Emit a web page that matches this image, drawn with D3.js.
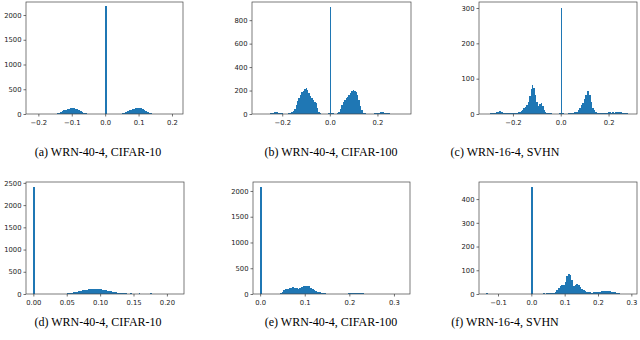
<!DOCTYPE html>
<html><head><meta charset="utf-8">
<script src="https://cdn.jsdelivr.net/npm/d3@7"></script>
<style>
html,body{margin:0;padding:0;background:#fff;}
svg{display:block;}
.tick text{font-family:"DejaVu Sans",sans-serif;font-size:6.8px;fill:#222;}
.cap{font-family:"Liberation Serif","Times New Roman",serif;font-size:12px;fill:#000;}
</style></head>
<body>
<svg id="c" width="640" height="340"></svg>
<script>
// ---------- data ----------
const captions = ["(a) WRN-40-4, CIFAR-10","(b) WRN-40-4, CIFAR-100","(c) WRN-16-4, SVHN",
                  "(d) WRN-40-4, CIFAR-10","(e) WRN-40-4, CIFAR-100","(f) WRN-16-4, SVHN"];
// histogram bin start and bin width per panel
const binStart = [-0.21, -0.30, -0.318, 0.0, 0.0, -0.135];
const binWidth = [0.005, 0.006, 0.006, 0.0025, 0.004, 0.005];
// bin counts
const countsA = [1,0,1,0,1,1,2,1,2,3,4,6,10,18,30,45,60,75,88,100,108,114,116,112,105,95,82,65,48,30,16,8,4,2,1,1,0,0,0,0,0,0,
  2180,0,0,0,0,1,1,2,4,8,15,28,45,62,78,90,100,108,114,118,122,115,95,75,55,38,24,14,8,5,3,2,2,1,1,1,0,1,0,1,0,1];
const countsB = [2,1,2,2,3,3,4,4,6,8,10,14,16,14,12,9,6,4,3,3,4,5,8,14,25,45,75,110,140,165,185,200,215,218,205,175,150,140,120,100,90,50,15,5,3,2,2,3,4,6,
  910,8,5,4,3,6,15,45,75,100,120,135,145,160,180,195,205,200,190,160,120,70,30,12,6,4,3,3,3,4,4,5,6,8,10,14,18,15,12,8,6,5,4,3,2,2,2,1,1,1];
const countsC = [1,1,1,1,2,2,3,4,5,7,8,7,5,4,3,2,2,3,2,3,4,3,4,5,6,8,12,16,20,25,35,50,70,82,75,55,35,22,28,30,22,12,6,4,3,2,2,1,1,1,1,1,2,
  300,2,1,1,1,2,2,3,4,5,5,6,10,18,25,30,42,55,65,66,55,35,18,10,6,4,3,3,3,2,3,3,4,5,5,4,5,4,5,6,5,6,5,4,3,2,2,1,1,1];
const countsD = [2400,0,0,0,0,0,0,0,0,0,0,0,0,0,1,1,3,5,6,8,12,15,20,28,35,45,55,65,75,82,90,95,100,105,110,112,115,118,116,112,108,100,92,85,75,66,58,50,42,36,30,25,20,17,14,12,
  10,9,12,8,10,9,7,12,8,6,10,7,9,6,12,8,5,10,6,8,7,5,9,6,7,5,8,4,6,5];
const countsE = [2070,5,3,2,3,2,3,4,4,5,8,15,40,85,95,100,110,125,130,120,110,105,120,135,150,160,162,150,125,100,75,55,40,30,22,15,12,9,8,7,
  7,6,7,6,6,6,6,7,8,10,12,18,25,22,18,25,20,12,8,6,5,5,5,4,4,5,4,4,5,4,5,6,5,4,3,3,2,2,3,1];
const countsF = [3,0,0,0,0,1,0,0,0,0,1,0,0,0,0,0,0,1,0,0,0,0,0,0,1,0,0,
  450,0,1,0,1,1,2,3,2,3,4,3,5,6,10,18,25,35,40,38,50,75,85,78,60,32,40,42,40,30,22,16,12,10,8,7,6,7,8,7,8,10,11,12,12,13,12,11,10,9,7,4,3,2,2,1,1,1,1];
const counts = [countsA, countsB, countsC, countsD, countsE, countsF];
// axis limits and ticks
const xLimits = [[-0.237,0.233],[-0.327,0.341],[-0.342,0.319],[-0.011,0.2256],[-0.016,0.336],[-0.157,0.317]];
const yLimits = [[0,2263],[0,955],[0,317],[0,2520],[0,2174],[0,472]];
const xTicks = [[-0.2,-0.1,0,0.1,0.2],[-0.2,0,0.2],[-0.2,0,0.2],[0,0.05,0.1,0.15,0.2],[0,0.1,0.2,0.3],[-0.1,0,0.1,0.2,0.3]];
const xTickFmt = [".1f",".1f",".1f",".2f",".1f",".1f"];
const yTicks = [[0,500,1000,1500,2000],[0,200,400,600,800],[0,100,200,300],[0,500,1000,1500,2000,2500],[0,500,1000,1500,2000],[0,100,200,300,400]];

// ---------- layout ----------
const frames = [
  {x0:26,x1:183,y0:2,y1:114},{x0:252,x1:411,y0:2,y1:114},{x0:479,x1:637,y0:2,y1:114},
  {x0:26,x1:184,y0:182,y1:294},{x0:253,x1:410,y0:182,y1:294},{x0:479,x1:637,y0:182,y1:294}];
const capPos = [{x:98,y:156},{x:331,y:156},{x:505,y:156},{x:98,y:326},{x:331,y:326},{x:505,y:326}];
const color = "#1f77b4";

const svg = d3.select("#c");
frames.forEach((f,i)=>{
  const x = d3.scaleLinear().domain(xLimits[i]).range([f.x0,f.x1]);
  const y = d3.scaleLinear().domain(yLimits[i]).range([f.y1,f.y0]);
  const g = svg.append("g");
  const bins = counts[i].map((c,k)=>({x0:binStart[i]+k*binWidth[i], x1:binStart[i]+(k+1)*binWidth[i], c}));
  g.append("g").selectAll("rect").data(bins.filter(b=>b.c>0)).join("rect")
    .attr("x",b=>x(b.x0)).attr("width",b=>Math.max(0.6,x(b.x1)-x(b.x0)))
    .attr("y",b=>y(b.c)).attr("height",b=>y(0)-y(b.c))
    .attr("fill",color).attr("shape-rendering","crispEdges");
  const xa = d3.axisBottom(x).tickValues(xTicks[i]).tickFormat(d3.format(xTickFmt[i])).tickSize(2.5).tickPadding(3.5);
  const ya = d3.axisLeft(y).tickValues(yTicks[i]).tickFormat(d3.format("d")).tickSize(2.5).tickPadding(2);
  const gx = g.append("g").attr("transform",`translate(0,${f.y1})`).call(xa);
  const gy = g.append("g").attr("transform",`translate(${f.x0},0)`).call(ya);
  [gx,gy].forEach(a=>{a.select(".domain").remove(); a.selectAll("line").attr("stroke","#333").attr("stroke-width",0.7);});
  g.append("rect").attr("x",f.x0).attr("y",f.y0).attr("width",f.x1-f.x0).attr("height",f.y1-f.y0)
    .attr("fill","none").attr("stroke","#444").attr("stroke-width",0.7);
  svg.append("text").attr("class","cap").attr("x",capPos[i].x).attr("y",capPos[i].y)
    .attr("text-anchor","middle").text(captions[i]);
});
</script>
</body></html>
